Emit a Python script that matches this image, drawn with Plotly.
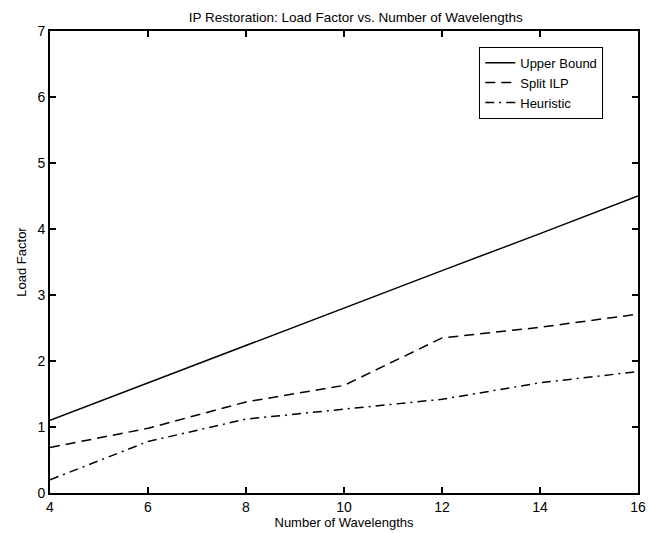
import plotly.graph_objects as go

wavelengths = [4, 6, 8, 10, 12, 14, 16]
upper_bound = [1.10, 1.67, 2.23, 2.80, 3.37, 3.93, 4.50]
split_ilp = [0.69, 0.98, 1.38, 1.63, 2.35, 2.51, 2.71]
heuristic = [0.20, 0.78, 1.12, 1.27, 1.42, 1.67, 1.84]

x_ticks = [4, 6, 8, 10, 12, 14, 16]
y_ticks = [0, 1, 2, 3, 4, 5, 6, 7]

fig = go.Figure()
fig.add_trace(go.Scatter(x=wavelengths, y=upper_bound, mode="lines", name="Upper Bound",
                         line=dict(color="black", width=1.5, dash="solid")))
fig.add_trace(go.Scatter(x=wavelengths, y=split_ilp, mode="lines", name="Split ILP",
                         line=dict(color="black", width=1.5, dash="10px,6px")))
fig.add_trace(go.Scatter(x=wavelengths, y=heuristic, mode="lines", name="Heuristic",
                         line=dict(color="black", width=1.5, dash="9px,5px,2px,5px")))

font_family = "Liberation Sans, Arial, Helvetica, sans-serif"
axis_common = dict(showgrid=False, zeroline=False, showline=True, linecolor="black",
                   linewidth=2, mirror="ticks", ticks="inside", ticklen=6, tickwidth=1.5,
                   tickcolor="black", tickfont=dict(size=14, color="black", family=font_family))

fig.update_layout(
    width=655, height=533,
    margin=dict(l=50, r=9, t=31, b=36),
    paper_bgcolor="white", plot_bgcolor="white",
    title=dict(text="IP Restoration: Load Factor vs. Number of Wavelengths",
               x=0.52, xanchor="center", xref="paper", y=0.968, yanchor="middle",
               font=dict(size=13.5, color="black", family=font_family)),
    xaxis=dict(range=[4, 16], tickvals=x_ticks,
               title=dict(text="Number of Wavelengths", standoff=0,
                          font=dict(size=13, color="black", family=font_family)),
               **axis_common),
    yaxis=dict(range=[0, 7], tickvals=y_ticks,
               title=dict(text="Load Factor", standoff=8,
                          font=dict(size=13, color="black", family=font_family)),
               **axis_common),
    legend=dict(x=0.73, y=0.966, xanchor="left", yanchor="top",
                bordercolor="black", borderwidth=1, bgcolor="white",
                font=dict(size=13, color="black", family=font_family),
                tracegroupgap=0, itemwidth=30),
    showlegend=True,
)

fig.write_html("out.html", config={"displayModeBar": False},
               post_script="document.body.style.margin='0';document.body.style.overflow='hidden';")
